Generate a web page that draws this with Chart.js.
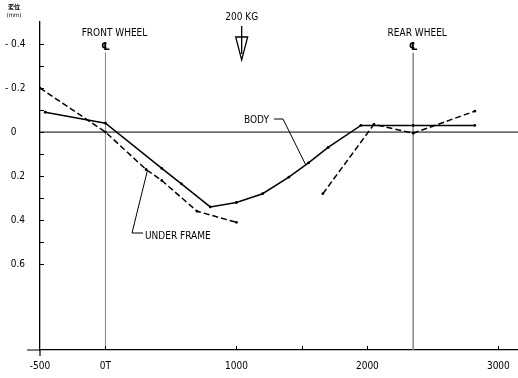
<!DOCTYPE html>
<html>
<head>
<meta charset="utf-8">
<script src="https://cdn.jsdelivr.net/npm/chart.js@4.4.1/dist/chart.umd.min.js"></script>
<style>
  html, body { margin: 0; padding: 0; background: #fff; }
  #wrap { width: 518px; height: 378px; }
</style>
</head>
<body>
<div id="wrap"><canvas id="deflection" width="518" height="378"></canvas></div>
<script>
// distance along the car (mm from front wheel), deflection (mm, down is positive)
const bodyX = [-460, 0, 430, 580, 800, 1000, 1200, 1400, 1550, 1700, 1950, 2350, 2820];
const bodyY = [-0.09, -0.04, 0.165, 0.235, 0.34, 0.32, 0.28, 0.205, 0.14, 0.07, -0.03, -0.03, -0.03];

const frameX = [-500, 0, 310, 430, 700, 1000, 1300, 1660, 2050, 2350, 2820];
const frameY = [-0.2, 0, 0.17, 0.22, 0.36, 0.41, null, 0.28, -0.035, 0.005, -0.095];

const frontWheelX = 0;
const rearWheelX = 2350;
const loadX = 1040;

const xTicks = [-500, 0, 1000, 2000, 3000];
const xTickLabels = ['-500', '0T', '1000', '2000', '3000'];
const yTicks = [-0.4, -0.2, 0, 0.2, 0.4, 0.6];
const yTickLabels = ['-0.4', '-0.2', '0', '0.2', '0.4', '0.6'];

const FONT = '"DejaVu Sans Condensed", "Liberation Sans Narrow", "DejaVu Sans", sans-serif';

function pts(xs, ys) {
    return xs.map((x, i) => ({ x: x, y: ys[i] }));
}

const notes = {
    id: 'notes',
    afterDraw: function (chart) {
        const ctx = chart.ctx;
        const x = chart.scales.x;
        const y = chart.scales.y;
        const area = chart.chartArea;
        ctx.save();
        ctx.strokeStyle = '#000';
        ctx.fillStyle = '#000';
        ctx.lineWidth = 1.2;

        // axis line extensions
        ctx.beginPath();
        ctx.moveTo(27, area.bottom); ctx.lineTo(area.left, area.bottom);
        ctx.moveTo(area.left, area.bottom); ctx.lineTo(area.left, area.bottom + 6);
        ctx.stroke();

        // inward tick marks
        ctx.lineWidth = 1;
        ctx.beginPath();
        for (let v = -4; v <= 6; v++) {
            const py = Math.round(y.getPixelForValue(v / 10)) + 0.5;
            ctx.moveTo(area.left, py); ctx.lineTo(area.left + 4, py);
        }
        [0, 1000, 1500, 2000, 3000].forEach(function (v) {
            const px = Math.round(x.getPixelForValue(v)) + 0.5;
            ctx.moveTo(px, area.bottom); ctx.lineTo(px, area.bottom - 4);
        });
        ctx.stroke();

        ctx.textBaseline = 'middle';
        ctx.textAlign = 'center';
        ctx.font = '10px ' + FONT;
        const fx = x.getPixelForValue(frontWheelX);
        const rx = x.getPixelForValue(rearWheelX);
        ctx.fillText('FRONT WHEEL', fx + 9, 33);
        ctx.fillText('REAR WHEEL', rx + 4, 33);
        ctx.font = 'bold 11px ' + FONT;
        ctx.fillText('\u2104', fx, 47);
        ctx.fillText('\u2104', rx, 47);

        // load arrow
        const ax = x.getPixelForValue(loadX);
        ctx.font = '10px ' + FONT;
        ctx.fillText('200 KG', ax, 17);
        ctx.lineWidth = 1.3;
        ctx.beginPath();
        ctx.moveTo(ax, 26); ctx.lineTo(ax, 54);
        ctx.moveTo(ax - 6, 37); ctx.lineTo(ax + 6, 37); ctx.lineTo(ax, 60); ctx.closePath();
        ctx.stroke();

        // BODY label + leader
        ctx.textAlign = 'left';
        ctx.font = '10px ' + FONT;
        ctx.fillText('BODY', 244, 120);
        ctx.lineWidth = 1;
        ctx.beginPath();
        ctx.moveTo(274, 119); ctx.lineTo(283, 119);
        ctx.lineTo(x.getPixelForValue(1530), y.getPixelForValue(0.15));
        ctx.stroke();

        // UNDER FRAME label + leader
        ctx.fillText('UNDER FRAME', 145, 236);
        ctx.beginPath();
        ctx.moveTo(143, 233); ctx.lineTo(132, 233);
        ctx.lineTo(x.getPixelForValue(320), y.getPixelForValue(0.175));
        ctx.stroke();

        // y axis unit
        ctx.textAlign = 'center';
        ctx.font = 'bold 6px "Noto Sans CJK JP", sans-serif';
        ctx.fillText('変位', 14, 7);
        ctx.font = '6px ' + FONT;
        ctx.fillText('(mm)', 14, 15);
        ctx.restore();
    }
};

new Chart(document.getElementById('deflection'), {
    type: 'scatter',
    data: {
        datasets: [
            {
                label: 'Body',
                data: pts(bodyX, bodyY),
                showLine: true,
                borderColor: '#000',
                backgroundColor: '#000',
                borderWidth: 1.5,
                pointRadius: 1.4,
                pointBorderWidth: 0
            },
            {
                label: 'Under frame',
                data: pts(frameX, frameY),
                showLine: true,
                spanGaps: false,
                borderColor: '#000',
                backgroundColor: '#000',
                borderWidth: 1.5,
                borderDash: [6, 3],
                pointRadius: 1.4,
                pointBorderWidth: 0
            },
            {
                label: 'zero',
                data: pts([-500, 3150], [0, 0]),
                showLine: true,
                borderColor: '#000',
                borderWidth: 1,
                pointRadius: 0
            },
            {
                label: 'front wheel',
                data: pts([frontWheelX, frontWheelX], [-0.36, 0.99]),
                showLine: true,
                borderColor: '#8c8c8c',
                borderWidth: 1,
                pointRadius: 0
            },
            {
                label: 'rear wheel',
                data: pts([rearWheelX, rearWheelX], [-0.36, 0.99]),
                showLine: true,
                borderColor: '#8c8c8c',
                borderWidth: 1,
                pointRadius: 0
            }
        ]
    },
    options: {
        responsive: false,
        animation: false,
        layout: { autoPadding: false, padding: { top: 22, left: 5, right: 0, bottom: 0 } },
        plugins: {
            legend: { display: false },
            tooltip: { enabled: false }
        },
        scales: {
            x: {
                type: 'linear',
                min: -500,
                max: 3150,
                afterBuildTicks: function (s) { s.ticks = xTicks.map(v => ({ value: v })); },
                afterFit: function (s) { s.height = 28; s.paddingLeft = 0; s.paddingRight = 0; },
                grid: { display: false, drawTicks: false },
                border: { color: '#000', width: 1.3 },
                ticks: {
                    padding: 10,
                    maxRotation: 0,
                    autoSkip: false,
                    color: '#000',
                    font: { family: FONT, size: 10 },
                    callback: function (v) { return xTickLabels[xTicks.indexOf(v)]; }
                }
            },
            y: {
                type: 'linear',
                reverse: true,
                min: -0.5,
                max: 0.99,
                afterBuildTicks: function (s) { s.ticks = yTicks.map(v => ({ value: v })); },
                afterFit: function (s) { s.width = 35; },
                grid: { display: false, drawTicks: false },
                border: { color: '#000', width: 1.3 },
                ticks: {
                    crossAlign: 'far',
                    autoSkip: false,
                    color: '#000',
                    font: { family: FONT, size: 10 },
                    callback: function (v) {
                        const t = yTickLabels[yTicks.indexOf(v)];
                        return t.charAt(0) === '-' ? '- ' + t.slice(1) : '  ' + t;
                    }
                }
            }
        }
    },
    plugins: [notes]
});
</script>
</body>
</html>
